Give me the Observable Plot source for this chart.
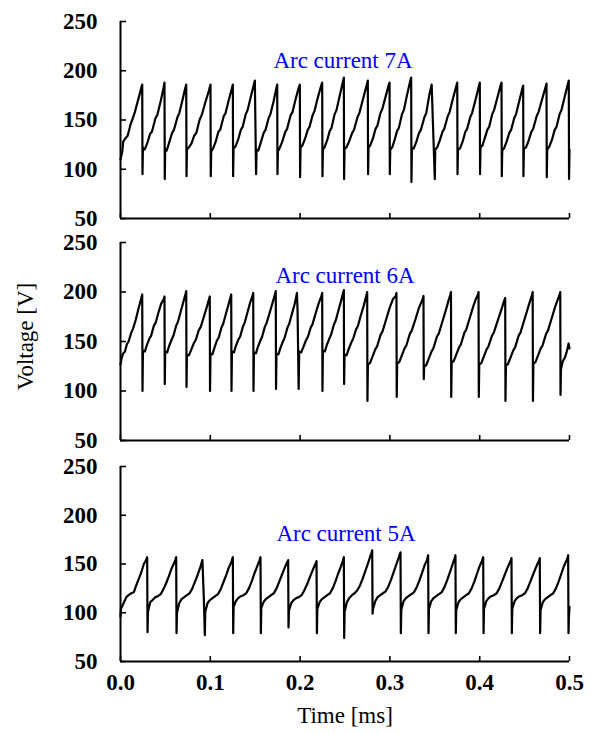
<!DOCTYPE html>
<html>
<head>
<meta charset="utf-8">
<script src="https://cdn.jsdelivr.net/npm/d3@7"></script>
<script src="https://cdn.jsdelivr.net/npm/@observablehq/plot@0.6"></script>
<style>
  body { margin: 0; background: #fff; }
  #chart { width: 593px; height: 733px; }
  #chart svg { display: block; }
</style>
</head>
<body>
<div id="chart"></div>
<script>
// ---------- data ----------
const panelLabels = ["Arc current 7A", "Arc current 6A", "Arc current 5A"];
const yTicks = [50, 100, 150, 200, 250];
const xTicks = [0, 0.1, 0.2, 0.3, 0.4, 0.5];
const xTitle = "Time [ms]";
const yTitle = "Voltage [V]";

// [time (ms), voltage (V)]
const voltage7A = [
[0,110],[0.002,118],[0.003,128],[0.006,132],[0.008,134],[0.011,145],[0.013,150],[0.016,158],[0.018,165],[0.021,175],[0.0235,184],[0.0242,186],
[0.0245,95],[0.0250,122],[0.0270,120],[0.0300,127],[0.0330,136],[0.0350,138],[0.0390,152],[0.0410,155],[0.0450,170],[0.0480,183],[0.0490,188],
[0.0493,90],[0.0498,121],[0.0515,119],[0.0545,128],[0.0575,137],[0.0595,140],[0.0635,153],[0.0655,157],[0.0690,170],[0.0720,182],[0.0732,186],
[0.0735,93],[0.0740,120],[0.0760,122],[0.0790,126],[0.0820,134],[0.0845,137],[0.0880,150],[0.0905,155],[0.0945,168],[0.0985,180],[0.1002,186],
[0.1005,93],[0.1010,118],[0.1030,121],[0.1060,128],[0.1090,138],[0.1110,140],[0.1150,154],[0.1170,157],[0.1205,170],[0.1240,182],[0.1251,186],
[0.1254,93],[0.1259,121],[0.1280,123],[0.1310,130],[0.1340,140],[0.1360,143],[0.1395,156],[0.1415,160],[0.1450,173],[0.1485,186],[0.1496,190],
[0.1510,95],[0.1515,120],[0.1535,119],[0.1565,128],[0.1595,137],[0.1615,140],[0.1650,152],[0.1670,156],[0.1705,169],[0.1735,182],[0.1745,186],
[0.1748,95],[0.1753,118],[0.1775,122],[0.1805,129],[0.1835,138],[0.1855,141],[0.1895,155],[0.1915,158],[0.1950,171],[0.1985,183],[0.1997,186],
[0.2000,92],[0.2005,122],[0.2025,124],[0.2055,131],[0.2085,140],[0.2105,143],[0.2140,155],[0.2160,159],[0.2195,172],[0.2235,185],[0.2246,188],
[0.2249,93],[0.2254,120],[0.2275,123],[0.2300,129],[0.2330,139],[0.2350,142],[0.2385,156],[0.2405,160],[0.2440,174],[0.2475,188],[0.2487,193],
[0.2490,90],[0.2495,121],[0.2515,122],[0.2545,128],[0.2580,137],[0.2600,140],[0.2640,153],[0.2660,157],[0.2700,171],[0.2740,185],[0.2754,190],
[0.2757,95],[0.2762,122],[0.2780,124],[0.2810,131],[0.2840,141],[0.2860,144],[0.2895,157],[0.2915,161],[0.2950,173],[0.2985,185],[0.2996,188],
[0.2999,95],[0.3004,120],[0.3025,122],[0.3050,129],[0.3080,139],[0.3100,142],[0.3135,156],[0.3155,160],[0.3190,175],[0.3225,189],[0.3237,193],
[0.3240,87],[0.3245,122],[0.3265,121],[0.3295,128],[0.3325,137],[0.3345,140],[0.3385,153],[0.3405,157],[0.3440,176],[0.3465,186],
[0.3500,90],[0.3505,120],[0.3525,122],[0.3555,129],[0.3585,138],[0.3605,141],[0.3645,154],[0.3665,158],[0.3700,171],[0.3738,184],[0.3750,188],
[0.3753,95],[0.3758,120],[0.3780,121],[0.3810,128],[0.3840,138],[0.3860,141],[0.3895,153],[0.3915,157],[0.3955,171],[0.3990,184],[0.4001,188],
[0.4004,95],[0.4009,122],[0.4030,124],[0.4055,131],[0.4085,140],[0.4105,143],[0.4140,156],[0.4160,160],[0.4195,172],[0.4232,185],[0.4243,188],
[0.4246,93],[0.4251,119],[0.4270,121],[0.4300,128],[0.4330,137],[0.4350,140],[0.4385,152],[0.4405,156],[0.4440,169],[0.4472,181],[0.4484,185],
[0.4487,93],[0.4492,121],[0.4515,122],[0.4545,129],[0.4575,138],[0.4595,141],[0.4635,154],[0.4655,158],[0.4695,171],[0.4732,183],[0.4744,187],
[0.4747,92],[0.4752,120],[0.4775,123],[0.4805,130],[0.4835,140],[0.4855,143],[0.4890,156],[0.4910,160],[0.4945,173],[0.4980,186],[0.4992,190],
[0.4995,90],[0.5000,120]
];

const voltage6A = [
[0,127],[0.0015,134],[0.003,138],[0.005,140],[0.007,147],[0.009,150],[0.012,159],[0.014,163],[0.017,172],[0.020,183],[0.0232,194],[0.0242,197.5],
[0.0245,100],[0.0250,141],[0.0272,140],[0.0292,146],[0.0322,153],[0.0342,156],[0.0372,166],[0.0392,169],[0.0422,179],[0.0452,188],[0.0482,193],[0.0490,195.5],
[0.0493,107],[0.0498,140],[0.0520,139],[0.0540,145],[0.0570,152],[0.0590,156],[0.0620,166],[0.0640,170],[0.0670,180],[0.0700,190],[0.0724,198],[0.0732,201],
[0.0735,104],[0.0740,137],[0.0762,136],[0.0785,141],[0.0815,148],[0.0840,152],[0.0870,161],[0.0895,165],[0.0925,174],[0.0955,183],[0.0986,193],[0.0994,195.5],
[0.0997,100],[0.1002,138],[0.1024,137],[0.1044,143],[0.1074,151],[0.1094,154],[0.1124,164],[0.1144,168],[0.1174,178],[0.1202,187],[0.1225,195],[0.1233,197.5],
[0.1236,100],[0.1241,140],[0.1263,139],[0.1283,145],[0.1313,152],[0.1333,155],[0.1363,165],[0.1383,169],[0.1413,179],[0.1443,189],[0.1470,196],[0.1478,199],
[0.1481,100],[0.1486,139],[0.1508,138],[0.1528,144],[0.1558,151],[0.1578,155],[0.1608,165],[0.1628,169],[0.1658,178],[0.1690,188],[0.1721,198],[0.1729,201],
[0.1732,102],[0.1737,138],[0.1759,137],[0.1779,143],[0.1809,150],[0.1829,154],[0.1859,164],[0.1879,168],[0.1909,178],[0.1940,188],[0.1965,199],[0.1972,180],[0.1978,140],[0.1984,102],
[0.1990,140],[0.2012,139],[0.2035,144],[0.2065,151],[0.2088,155],[0.2118,164],[0.2140,168],[0.2172,178],[0.2205,188],[0.2238,196],[0.2246,199],
[0.2249,100],[0.2254,141],[0.2276,140],[0.2296,146],[0.2326,153],[0.2346,157],[0.2376,167],[0.2396,171],[0.2426,181],[0.2456,191],[0.2479,199],[0.2487,202],
[0.2490,107],[0.2495,137],[0.2517,136],[0.2540,142],[0.2570,149],[0.2592,153],[0.2622,162],[0.2645,166],[0.2675,176],[0.2708,186],[0.2739,197],[0.2747,200],
[0.2750,90],[0.2755,127],[0.2777,128],[0.2807,135],[0.2837,142],[0.2857,145],[0.2897,157],[0.2917,160],[0.2957,172],[0.2997,184],[0.3035,193],[0.3065,196],[0.3073,199],
[0.3076,94],[0.3081,128],[0.3103,129],[0.3133,136],[0.3163,143],[0.3183,146],[0.3223,158],[0.3243,161],[0.3283,172],[0.3323,184],[0.3366,193],[0.3374,196],
[0.3377,112],[0.3382,125],[0.3404,126],[0.3434,133],[0.3464,140],[0.3484,143],[0.3524,155],[0.3544,158],[0.3584,170],[0.3624,182],[0.3655,192],[0.3672,197],[0.3680,200],
[0.3683,94],[0.3688,129],[0.3710,130],[0.3740,137],[0.3770,144],[0.3790,147],[0.3830,159],[0.3850,162],[0.3890,174],[0.3930,186],[0.3962,194],[0.3979,197],[0.3987,200],
[0.3990,94],[0.3995,127],[0.4017,128],[0.4047,135],[0.4077,142],[0.4097,145],[0.4137,156],[0.4157,159],[0.4197,170],[0.4237,181],[0.4265,189],[0.4276,192],[0.4284,194],
[0.4287,90],[0.4292,126],[0.4314,127],[0.4344,134],[0.4374,141],[0.4394,144],[0.4434,156],[0.4454,159],[0.4494,171],[0.4534,183],[0.4565,192],[0.4582,197],[0.4590,200],
[0.4593,90],[0.4598,128],[0.4620,129],[0.4650,136],[0.4680,143],[0.4700,146],[0.4740,158],[0.4760,161],[0.4800,173],[0.4840,185],[0.4872,193],[0.4889,197],[0.4897,200],
[0.4900,96],[0.4905,122],[0.4925,130],[0.4950,134],[0.4970,140],[0.4990,148],[0.5000,143]
];

const voltage5A = [
[0,96],[0.0005,104],[0.002,107],[0.004,111],[0.0065,116],[0.009,118],[0.012,120],[0.0148,121],[0.0175,128],[0.020,134],[0.023,141],[0.026,150],[0.0285,154],[0.0297,157],
[0.0301,80],[0.0306,101],[0.0332,111],[0.0357,113],[0.0387,116],[0.0417,117],[0.0447,119],[0.0477,124],[0.0507,130],[0.0537,137],[0.0567,145],[0.0597,151],[0.0610,154],[0.0620,157],
[0.0624,79],[0.0629,100],[0.0655,110],[0.0680,114],[0.0710,116],[0.0740,118],[0.0770,120],[0.0800,125],[0.0830,132],[0.0860,139],[0.0890,147],[0.0912,154],[0.0928,115],[0.0939,77],
[0.0944,101],[0.0970,110],[0.0995,113],[0.1025,115],[0.1055,117],[0.1085,119],[0.1115,124],[0.1145,131],[0.1175,138],[0.1205,146],[0.1235,152],[0.1244,155],[0.1251,157],
[0.1255,79],[0.1260,106],[0.1285,112],[0.1310,115],[0.1340,117],[0.1370,118],[0.1400,120],[0.1430,125],[0.1460,132],[0.1490,140],[0.1520,147],[0.1545,153],[0.1552,155],[0.1559,157],
[0.1563,79],[0.1568,105],[0.1593,111],[0.1618,114],[0.1648,116],[0.1678,118],[0.1708,120],[0.1738,125],[0.1768,132],[0.1798,139],[0.1828,146],[0.1852,151],[0.1867,154],
[0.1871,85],[0.1876,102],[0.1902,110],[0.1927,113],[0.1957,115],[0.1987,116],[0.2017,118],[0.2047,123],[0.2077,129],[0.2107,136],[0.2137,143],[0.2165,149],[0.2176,151],[0.2183,153],
[0.2187,79],[0.2192,104],[0.2218,111],[0.2243,114],[0.2273,116],[0.2303,118],[0.2333,120],[0.2363,125],[0.2393,132],[0.2423,140],[0.2453,147],[0.2475,153],[0.2487,157],
[0.2491,74],[0.2496,101],[0.2522,111],[0.2547,115],[0.2577,118],[0.2607,120],[0.2637,123],[0.2667,128],[0.2697,135],[0.2727,143],[0.2757,151],[0.2785,159],[0.2795,161],[0.2803,164],
[0.2807,99],[0.2812,104],[0.2838,112],[0.2863,116],[0.2893,118],[0.2923,120],[0.2953,122],[0.2983,127],[0.3013,134],[0.3043,142],[0.3073,150],[0.3100,157],[0.3110,160],[0.3118,162],
[0.3122,79],[0.3127,103],[0.3153,112],[0.3178,115],[0.3208,117],[0.3238,119],[0.3268,121],[0.3298,126],[0.3328,133],[0.3358,141],[0.3388,149],[0.3412,154],[0.3420,157],[0.3426,159],
[0.3430,79],[0.3435,104],[0.3461,112],[0.3486,115],[0.3516,117],[0.3546,119],[0.3576,121],[0.3606,126],[0.3636,133],[0.3666,141],[0.3696,149],[0.3718,155],[0.3730,159],
[0.3734,79],[0.3739,103],[0.3765,111],[0.3790,114],[0.3820,116],[0.3850,118],[0.3880,120],[0.3910,125],[0.3940,132],[0.3970,140],[0.4000,148],[0.4025,153],[0.4039,157],
[0.4043,79],[0.4048,104],[0.4074,112],[0.4099,115],[0.4129,117],[0.4159,118],[0.4189,120],[0.4219,125],[0.4249,132],[0.4279,139],[0.4309,146],[0.4338,152],[0.4347,154],[0.4354,156],
[0.4358,79],[0.4363,104],[0.4389,112],[0.4414,115],[0.4444,117],[0.4474,118],[0.4504,120],[0.4534,125],[0.4564,132],[0.4594,139],[0.4624,146],[0.4653,152],[0.4662,154],[0.4669,156],
[0.4673,79],[0.4678,103],[0.4704,111],[0.4729,114],[0.4759,116],[0.4789,118],[0.4819,120],[0.4849,125],[0.4879,132],[0.4909,140],[0.4939,148],[0.4968,154],[0.4977,156],[0.4985,159],
[0.4989,79],[0.4994,97],[0.5000,106]
];

// ---------- layout ----------
const W = 593;
const panels = [
  {label: panelLabels[0], data: voltage7A, height: 230, marginTop: 21, marginBottom: 12, labelDy: 39.6, labelDx: -2},
  {label: panelLabels[1], data: voltage6A, height: 223, marginTop: 12, marginBottom: 13, labelDy: 33.3, labelDx: 0},
  {label: panelLabels[2], data: voltage5A, height: 280, marginTop: 13, marginBottom: 72, labelDy: 67.3, labelDx: 1}
];

const chart = document.getElementById("chart");
panels.forEach((p, i) => {
  const last = i === panels.length - 1;
  const marks = [
    Plot.ruleX([xTicks[0]], {strokeWidth: 2}),
    Plot.ruleY([yTicks[0]], {strokeWidth: 2}),
    Plot.axisY(yTicks, {tickSize: 6, dx: 6, tickPadding: 23, strokeWidth: 1.6, fontWeight: "bold", label: null}),
    Plot.axisX(xTicks, {tickSize: 5, dy: -5, tickPadding: 12, strokeWidth: 1.6, fontWeight: "bold", label: null,
      fill: last ? "currentColor" : "none", tickFormat: d3.format(".1f")}),
    Plot.line(p.data, {x: d => d[0], y: d => d[1], stroke: "black", strokeWidth: 2.2}),
    Plot.text([p.label], {frameAnchor: "top", lineAnchor: "middle", textAnchor: "middle", dy: p.labelDy, dx: p.labelDx, fill: "#0000ff", fontWeight: "normal", fontSize: 23})
  ];
  if (i === 1) {
    marks.push(Plot.text([yTitle], {frameAnchor: "left", lineAnchor: "middle", textAnchor: "middle", rotate: -90, dx: -95, dy: -5, fontWeight: "normal", fontSize: 23}));
  }
  if (last) {
    marks.push(Plot.text([xTitle], {frameAnchor: "bottom", lineAnchor: "middle", textAnchor: "middle", dy: 54, fontWeight: "normal", fontSize: 23}));
  }
  const svg = Plot.plot({
    width: W,
    height: p.height,
    marginLeft: 120,
    marginRight: 24,
    marginTop: p.marginTop,
    marginBottom: p.marginBottom,
    x: {domain: [0, 0.5]},
    y: {domain: [50, 250]},
    style: {fontFamily: "'Liberation Serif', 'Times New Roman', serif", fontSize: "23px", fontWeight: "bold", background: "transparent", color: "black", overflow: "visible"},
    marks
  });
  chart.appendChild(svg);
});
</script>
</body>
</html>
